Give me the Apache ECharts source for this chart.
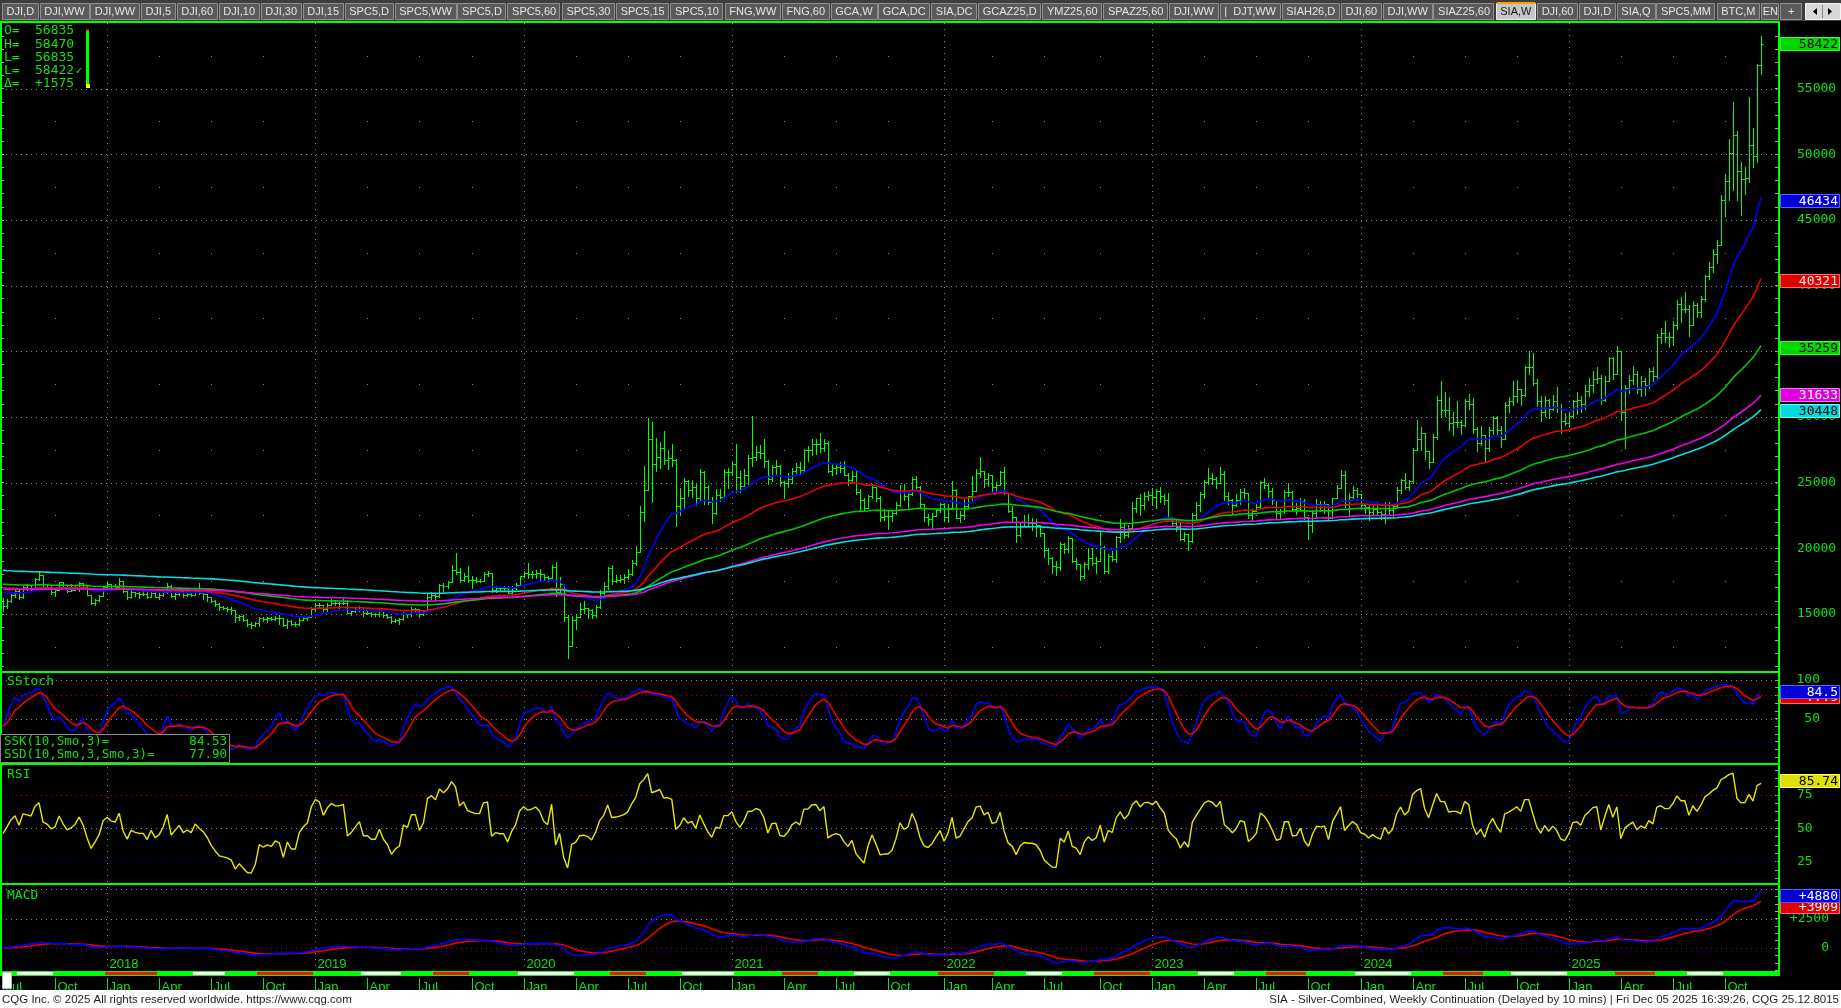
<!DOCTYPE html>
<html>
<head>
<meta charset="utf-8">
<title>SIA Weekly</title>
<script src="https://cdn.jsdelivr.net/npm/echarts@6.0.0/dist/echarts.min.js"></script>
<style>
html,body{margin:0;padding:0;background:#000;overflow:hidden;}
#chart{width:1841px;height:1008px;}
</style>
</head>
<body>
<div id="chart"></div>
<script>
// ================= DATA (US$ / oz, weekly bars dated Friday) =================
const firstWeek = '2017-07-07';
const emptyWeeksAfter = 4;
const firstOpen = 15.95;

const close2017 = [15.60,16.00,16.45,16.75,16.25,17.05,17.00,16.95,17.65,17.95,17.05,16.95,16.70,16.80,17.40,17.05,16.75,16.85,17.00,17.35,17.05,16.45,15.80,16.05,16.35,17.05];
const high2017  = [16.20,16.10,16.50,16.80,16.90,17.15,17.25,17.10,17.75,18.20,17.95,17.30,17.10,16.95,17.45,17.45,17.10,17.25,17.20,17.45,17.35,17.15,16.45,16.15,16.45,17.10];
const low2017   = [15.20,15.45,15.90,16.30,16.10,16.20,16.80,16.80,16.90,17.60,17.00,16.90,16.55,16.35,16.80,17.00,16.65,16.75,16.80,16.75,16.95,16.40,15.75,15.65,15.95,16.35];

const close2018 = [17.25,17.10,17.05,17.50,16.75,16.30,16.70,16.60,16.55,16.55,16.30,16.60,16.30,16.40,16.65,17.15,16.35,16.55,16.75,16.45,16.55,16.45,16.75,16.60,16.50,16.30,16.00,15.75,15.50,15.45,15.40,15.30,14.75,14.85,14.55,14.20,14.15,14.30,14.70,14.60,14.65,14.60,14.70,14.65,14.15,14.45,14.20,14.20,14.55,14.70,14.80,15.35];
const high2018  = [17.40,17.30,17.25,17.70,17.45,16.80,16.80,16.70,16.65,16.75,16.70,16.70,16.70,16.65,16.90,17.35,17.20,16.65,16.90,16.75,16.75,16.65,16.90,17.35,16.60,16.55,16.15,16.05,15.85,15.60,15.55,15.50,15.30,14.95,14.90,14.60,14.40,14.40,14.75,14.75,14.75,14.80,14.85,14.95,14.70,14.60,14.50,14.40,14.70,14.80,14.85,15.50];
const low2018   = [17.00,16.85,16.95,17.05,16.70,16.10,16.20,16.35,16.20,16.40,16.20,16.25,16.25,16.15,16.35,16.60,16.30,16.10,16.40,16.25,16.35,16.35,16.40,16.50,16.15,16.00,15.90,15.60,15.30,15.35,15.25,15.10,14.35,14.55,14.45,14.10,13.95,14.05,14.05,14.45,14.35,14.50,14.50,14.20,14.10,13.95,14.15,14.10,14.15,14.50,14.50,14.80];

const close2019 = [15.70,15.65,15.35,15.65,15.85,15.80,15.80,15.85,15.10,15.20,15.35,15.50,15.10,15.10,15.00,15.00,15.20,14.95,14.80,14.45,14.55,14.60,15.05,15.00,15.35,15.35,15.00,15.20,16.25,16.45,16.35,17.20,17.10,17.45,18.35,18.20,17.60,17.90,17.60,17.55,17.50,17.50,18.05,18.10,16.85,17.00,16.95,16.95,16.60,16.95,17.20,17.85];
const high2019  = [15.85,15.85,15.70,15.80,16.15,15.95,15.90,16.10,16.05,15.30,15.50,15.60,15.45,15.30,15.15,15.05,15.30,15.20,15.00,14.85,14.60,14.65,15.15,15.10,15.55,15.45,15.40,15.30,16.55,16.65,16.60,17.30,17.35,17.50,18.70,19.65,18.50,18.15,18.65,17.90,17.80,17.65,18.20,18.30,18.15,17.15,17.05,17.10,17.15,17.15,17.35,17.90];
const low2019   = [15.30,15.55,15.25,15.25,15.75,15.65,15.45,15.75,15.05,14.95,15.15,15.25,14.85,15.00,14.85,14.85,14.85,14.75,14.70,14.30,14.35,14.25,14.55,14.75,14.85,15.15,14.80,14.90,15.20,16.10,15.95,16.30,16.75,16.95,17.40,18.05,17.40,17.50,17.45,16.95,17.45,17.40,17.50,17.85,16.70,16.65,16.80,16.85,16.60,16.50,16.90,17.20];

const close2020 = [18.10,18.00,18.05,18.15,18.05,17.80,17.70,18.55,16.65,17.25,14.80,12.55,14.55,14.75,15.40,15.45,15.30,14.95,15.55,16.60,17.15,18.50,17.50,17.55,17.65,17.80,18.05,18.90,19.75,22.75,24.40,28.35,26.40,26.95,27.60,26.75,26.85,26.70,23.20,23.80,25.10,24.40,24.65,23.80,25.80,24.70,23.55,22.70,24.05,23.90,25.80,25.80];
const high2020  = [18.30,18.90,18.25,18.35,18.45,18.05,17.90,18.75,18.95,17.80,17.20,14.95,14.85,14.95,15.80,15.95,15.40,15.35,15.70,16.80,17.45,18.55,18.75,17.95,17.95,18.00,18.40,19.10,20.20,23.25,26.25,29.90,29.60,28.40,28.10,28.90,27.45,27.90,26.80,24.60,25.35,25.20,25.20,24.90,26.05,25.90,24.80,23.90,24.50,24.50,26.00,26.10];
const low2020   = [17.80,17.75,17.70,17.75,17.55,17.55,17.50,17.70,16.35,16.60,14.45,11.65,12.60,13.85,14.75,15.05,14.70,14.65,14.75,15.45,16.45,16.90,17.30,17.40,17.40,17.35,17.65,17.95,18.75,19.70,22.10,24.40,23.55,25.85,26.10,26.40,26.05,26.30,21.70,22.60,23.00,24.00,23.90,23.30,23.60,23.40,23.40,21.90,22.60,23.60,24.00,24.60];

const close2021 = [26.40,25.40,24.75,25.55,26.90,26.95,27.35,27.25,26.65,25.25,26.20,26.25,25.05,24.95,25.30,25.90,26.15,25.95,27.45,27.45,27.90,27.95,27.65,28.00,25.90,26.10,26.20,26.10,25.60,25.20,25.50,24.30,23.70,23.05,23.95,24.70,23.80,22.40,22.45,22.45,22.65,23.30,24.45,23.95,24.15,25.30,24.70,23.35,22.40,22.20,22.45,22.90,23.35];
const high2021  = [26.60,27.90,25.90,26.05,27.10,30.10,27.80,27.85,28.35,26.70,26.35,26.75,26.35,25.10,25.70,26.10,26.50,26.55,27.55,27.80,28.30,28.30,28.75,28.30,28.20,26.45,26.40,26.60,26.65,25.70,25.90,25.90,24.50,23.80,24.05,24.90,24.70,23.95,23.00,22.80,22.90,23.55,24.85,24.90,24.25,25.40,25.50,24.75,23.25,22.60,22.65,23.00,23.45];
const low2021   = [25.60,24.30,24.30,24.90,24.80,26.30,26.70,26.85,26.20,24.90,25.15,25.65,24.75,23.80,24.65,24.95,25.70,25.70,25.90,26.65,27.10,27.15,27.30,27.40,25.80,25.60,25.65,25.80,25.55,24.80,25.00,24.10,22.90,22.80,23.10,23.85,23.60,22.10,22.15,21.45,22.10,22.60,23.25,23.70,23.05,24.05,24.55,23.05,22.10,21.80,21.45,22.60,22.75];

const close2022 = [22.40,23.00,24.40,22.30,22.50,23.20,23.95,24.35,25.75,25.90,25.25,25.55,24.70,24.80,25.80,24.20,22.80,22.35,21.00,21.70,22.00,21.90,21.90,21.75,21.15,19.90,19.25,18.65,18.60,20.35,19.95,20.80,19.05,18.80,17.85,18.80,19.25,18.85,19.05,20.10,18.30,19.40,19.20,20.85,21.65,21.00,21.55,23.05,23.80,23.30,24.00,24.05];
const high2022  = [23.40,23.40,25.10,24.50,22.85,23.75,24.00,25.50,26.00,26.95,25.90,25.70,25.25,25.05,25.85,26.20,23.90,23.20,22.20,21.95,22.50,22.60,22.30,22.20,21.50,21.15,20.00,19.35,19.00,20.45,20.40,20.95,20.70,19.25,18.50,18.95,20.05,20.00,19.35,21.20,20.15,19.55,19.90,20.95,22.25,21.85,21.75,23.50,23.85,24.15,24.30,24.35];
const low2022   = [22.10,22.00,22.95,22.30,22.00,22.20,23.10,23.50,24.40,25.40,24.70,24.75,24.30,24.35,24.85,24.15,22.75,22.00,20.45,20.90,21.80,21.75,21.40,20.95,20.90,19.30,18.80,18.15,17.95,18.35,19.60,19.75,18.95,18.40,17.55,17.75,18.40,18.75,18.10,19.10,18.10,18.10,19.05,18.95,20.50,20.75,20.85,21.65,22.75,22.55,22.95,23.70];

const close2023 = [23.90,24.35,23.95,23.65,22.40,21.95,21.65,20.70,21.10,20.55,22.55,23.30,24.10,25.05,25.35,25.25,25.00,25.65,24.00,23.70,23.30,23.65,24.30,24.20,22.55,22.80,23.15,25.05,24.80,24.35,23.65,22.70,22.80,24.25,24.25,23.00,23.05,23.60,22.40,21.80,22.70,23.40,23.35,23.40,22.30,23.80,24.60,25.60,23.35,23.90,24.40,24.10];
const high2023  = [24.55,24.50,24.70,24.10,24.20,22.30,22.30,21.90,21.25,21.10,22.70,23.50,24.25,25.20,26.10,25.70,25.40,26.15,25.85,24.25,23.75,24.15,24.50,24.60,24.20,23.00,23.40,25.15,25.35,24.95,24.55,23.70,22.95,24.40,25.00,24.35,23.45,23.80,23.75,21.95,22.90,23.75,23.60,23.60,23.25,23.85,24.85,25.95,25.85,24.20,24.75,24.60];
const low2023   = [23.30,23.10,23.50,23.35,22.30,21.75,21.35,20.60,20.55,19.90,20.50,22.15,22.85,23.80,24.90,24.90,24.60,24.95,23.70,23.40,22.70,23.20,23.40,23.85,22.30,22.10,22.80,23.05,24.60,23.90,23.40,22.30,22.25,22.70,23.95,22.90,22.60,23.00,22.20,20.70,21.20,22.40,22.80,22.70,22.15,22.35,23.90,24.55,23.15,22.55,23.75,23.90];

const close2024 = [23.30,23.15,22.75,23.00,22.75,22.60,23.40,22.90,23.20,24.45,25.20,24.70,25.10,27.50,28.30,28.80,27.40,26.60,28.50,31.30,30.50,30.50,29.50,29.60,29.60,29.40,31.20,31.00,29.10,28.00,28.60,27.60,29.00,29.90,29.00,28.30,30.90,31.20,31.60,32.10,31.70,33.80,33.80,32.60,31.20,30.40,31.30,30.60,31.20,30.70,29.70,29.50];
const high2024  = [24.15,23.40,23.35,23.25,23.55,22.80,23.50,23.50,23.40,24.65,25.30,25.70,25.20,27.65,29.80,29.20,28.00,27.40,28.70,31.60,32.75,31.90,31.55,30.40,31.20,29.80,31.40,31.75,31.45,29.20,29.30,28.20,29.20,30.05,30.10,29.30,31.10,31.55,32.70,32.80,32.00,33.90,35.00,34.90,32.90,31.60,31.60,31.40,31.70,32.30,31.00,30.30];
const low2024   = [23.10,22.65,22.15,22.50,22.55,22.20,21.95,22.60,22.40,23.20,24.20,24.50,24.40,25.00,27.60,27.50,26.80,26.10,26.60,28.30,30.00,30.10,29.00,28.60,29.25,28.70,29.30,30.60,28.80,27.40,27.85,26.60,27.40,28.70,28.70,27.70,28.30,30.40,30.90,31.10,30.90,31.60,33.30,32.40,30.80,29.70,30.10,29.90,30.50,30.40,28.80,29.40];

const close2025 = [30.10,31.20,31.30,31.00,32.00,32.40,32.90,33.00,31.30,32.70,34.50,33.30,35.00,30.40,32.20,32.80,33.30,32.10,32.70,32.40,33.50,33.10,36.10,36.40,36.10,36.10,37.00,38.60,38.20,38.20,37.00,38.50,38.00,39.00,40.70,41.40,42.40,43.10,46.50,48.00,50.10,51.50,48.70,48.10,48.20,50.70,49.90,56.835,58.422];
const high2025  = [30.40,31.30,31.90,31.60,32.40,33.00,33.50,33.80,33.20,33.10,34.60,34.60,35.40,35.00,32.40,33.20,33.90,33.50,33.10,33.00,33.70,33.80,36.30,36.80,37.30,36.50,37.30,38.90,39.10,39.50,38.50,38.80,38.70,39.20,40.80,41.80,42.80,43.50,46.90,48.50,51.20,54.00,51.80,49.40,49.00,54.40,52.00,56.90,59.00];
const low2025   = [29.20,29.90,30.20,30.40,30.60,31.60,31.90,32.60,31.00,31.20,32.80,32.90,33.40,29.80,27.60,31.80,32.50,31.80,31.60,31.70,32.20,32.70,32.90,35.60,35.70,35.30,35.50,36.70,37.20,38.00,36.20,37.20,37.60,37.60,38.80,40.50,41.00,41.70,43.30,45.30,46.50,47.30,46.50,45.40,47.00,47.90,49.00,49.40,56.10];

// moving averages (exponential), start levels read at the first bar
const maPeriods = [21, 50, 100, 170, 200];
const maSeeds   = [16760, 17070, 17300, 16900, 18350];

// indicator settings
const stochPeriod = 10, stochSmooth = 3;
const rsiPeriod = 9, rsiSeed = [250, 250];
const macdFast = 12, macdSlow = 26, macdSignal = 9;

// right-hand value labels
const mainLast  = [58422, 46434, 40321, 35259, 31633, 30448];
const stochLast = [77.90, 84.53];
const rsiLast   = [85.74];
const macdLast  = [3909, 4880];

// axis tick labels
const priceLabels = [15000, 20000, 25000, 30000, 35000, 40000, 45000, 50000, 55000];
const stochLabels = [50, 100];
const rsiLabels   = [25, 50, 75];
const macdLabels  = [0, 2500];

// header readout
const ohlcKeys   = ['O=', 'H=', 'L=', 'L=', '\u0394='];
const ohlcValues = ['56835', '58470', '56835', '58422', '+1575'];
const stochLegendKeys = ['SSK(10,Smo,3)=', 'SSD(10,Smo,3,Smo,3)='];
const stochLegendVals = ['84.53', '77.90'];

// contract strip segments
const stripWhite = [['2017-08-04','2017-09-29'],['2018-06-08','2018-07-27'],['2019-03-29','2019-05-31'],['2019-12-27','2020-03-27'],['2020-10-09','2021-01-01'],['2021-08-06','2021-10-01'],['2022-06-03','2022-07-29'],['2023-03-31','2023-05-26'],['2023-12-29','2024-03-29'],['2024-09-27','2024-12-27'],['2025-08-01','2025-09-26']];
const stripRed   = [['2018-01-05','2018-03-30'],['2018-09-28','2018-12-28'],['2019-08-02','2019-09-27'],['2020-06-05','2020-07-31'],['2021-04-02','2021-05-28'],['2021-12-31','2022-04-01'],['2022-09-30','2022-12-30'],['2023-07-28','2023-09-29'],['2024-05-31','2024-08-02'],['2025-03-28','2025-05-30']];

const tabs = ['DJI,D','DJI,WW','DJI,WW','DJI,5','DJI,60','DJI,10','DJI,30','DJI,15','SPC5,D','SPC5,WW','SPC5,D','SPC5,60','SPC5,30','SPC5,15','SPC5,10','FNG,WW','FNG,60','GCA,W','GCA,DC','SIA,DC','GCAZ25,D','YMZ25,60','SPAZ25,60','DJI,WW','|  DJT,WW','SIAH26,D','DJI,60','DJI,WW','SIAZ25,60','SIA,W','DJI,60','DJI,D','SIA,Q','SPC5,MM','BTC,M','EN','+'];
const activeTab = 'SIA,W';
const footerLeft = 'CQG Inc. \u00a9 2025 All rights reserved worldwide. https://www.cqg.com';
const footerRight = 'SIA - Silver-Combined, Weekly Continuation (Delayed by 10 mins) | Fri Dec 05 2025 16:39:26, CQG 25.12.8015';

// ================= BUILD =================
const toK = a => a.map(v => Math.round(v * 1000));
const closes = toK([].concat(close2017, close2018, close2019, close2020, close2021, close2022, close2023, close2024, close2025));
const highsR = toK([].concat(high2017, high2018, high2019, high2020, high2021, high2022, high2023, high2024, high2025));
const lowsR  = toK([].concat(low2017, low2018, low2019, low2020, low2021, low2022, low2023, low2024, low2025));
const N = closes.length;
const opens = closes.map((c, i) => i === 0 ? Math.round(firstOpen * 1000) : closes[i - 1]);
const highs = highsR.map((h, i) => Math.max(h, opens[i], closes[i]));
const lows  = lowsR.map((l, i) => Math.min(l, opens[i], closes[i]));
const LAST = N - 1;

const DAY = 86400000, t0 = Date.parse(firstWeek + 'T00:00:00Z');
const dates = [];
for (let i = 0; i < N + emptyWeeksAfter; i++) dates.push(new Date(t0 + i * 7 * DAY).toISOString().slice(0, 10));
const MONTHS = ['Jan','Feb','Mar','Apr','May','Jun','Jul','Aug','Sep','Oct','Nov','Dec'];
const monthOf = i => +dates[i].slice(5, 7);
const yearStarts = [], quarterStarts = [];
for (let i = 0; i < N; i++) {
  const m = monthOf(i);
  const newMonth = i === 0 || monthOf(i - 1) !== m;
  if (newMonth && [1, 4, 7, 10].includes(m)) quarterStarts.push(i);
  if (i > 0 && dates[i].slice(0, 4) !== dates[i - 1].slice(0, 4)) yearStarts.push(i);
}

// indicators
function ema(src, n, seed) { const a = 2 / (n + 1); let v = seed; return src.map(x => (v = v + a * (x - v))); }
const maLines = maPeriods.map((p, k) => ema(closes, p, maSeeds[k]).map(v => Math.round(v)));

const raw = closes.map((c, i) => {
  let hi = -Infinity, lo = Infinity;
  for (let j = Math.max(0, i - stochPeriod + 1); j <= i; j++) { hi = Math.max(hi, highs[j]); lo = Math.min(lo, lows[j]); }
  return hi > lo ? (c - lo) / (hi - lo) * 100 : 50;
});
function smo(src, n) { let v = src[0]; return src.map((x, i) => i === 0 ? v : (v = v + (x - v) / n)); }
const ssk = smo(raw, stochSmooth), ssd = smo(ssk, stochSmooth);

let ag = rsiSeed[0], al = rsiSeed[1];
const rsi = closes.map((c, i) => {
  const d = c - opens[i];
  ag = (ag * (rsiPeriod - 1) + Math.max(d, 0)) / rsiPeriod;
  al = (al * (rsiPeriod - 1) + Math.max(-d, 0)) / rsiPeriod;
  return 100 - 100 / (1 + ag / al);
});

let e1 = closes[0], e2 = closes[0], sg = 0;
const macd = [], macdSig = [];
closes.forEach(c => {
  e1 += (c - e1) * 2 / (macdFast + 1); e2 += (c - e2) * 2 / (macdSlow + 1);
  const m = e1 - e2; sg += (m - sg) * 2 / (macdSignal + 1);
  macd.push(Math.round(m)); macdSig.push(Math.round(sg));
});

// ================= LAYOUT / STYLE =================
const GL = 1, GR = 62;
const PANE = { main: [23, 648], stoch: [672, 91], rsi: [764, 119], macd: [884, 87], strip: [971, 5] };
const GREEN_TXT = '#12e012', BAR = '#00ff00', DOT = '#8e8e8e';
const MONO = '"DejaVu Sans Mono", monospace';
const maColors = ['#0000ff', '#ee0000', '#00c800', '#f000f0', '#00e0e0'];

const grids = ['main', 'stoch', 'rsi', 'macd', 'strip'].map(k => ({
  left: GL, right: GR, top: PANE[k][0], height: PANE[k][1], containLabel: false, outerBoundsMode: 'none', show: false
}));
const xAxes = grids.map((g, i) => ({ type: 'category', gridIndex: i, data: dates, boundaryGap: true, show: false }));
const range = (a, b, s) => { const r = []; for (let v = a; v <= b + 1e-9; v += s) r.push(+v.toFixed(4)); return r; };
const labelStyle = (margin, align) => ({ show: true, margin, align, color: GREEN_TXT, fontFamily: MONO, fontSize: 13 });
const yAxes = [
  { type: 'value', gridIndex: 0, position: 'right', min: 10650, max: 60000, axisLine: { show: false }, splitLine: { show: false },
    axisTick: { show: true, inside: true, length: 4, customValues: range(11000, 59000, 1000), lineStyle: { color: '#a8a8a8' } },
    axisLabel: Object.assign(labelStyle(18, 'left'), { customValues: priceLabels, formatter: v => String(v) }) },
  { type: 'value', gridIndex: 0, position: 'left', min: 10650, max: 60000, axisLine: { show: false }, splitLine: { show: false },
    axisTick: { show: true, inside: true, length: 3, customValues: range(11000, 59000, 1000), lineStyle: { color: '#a8a8a8' } },
    axisLabel: { show: false } },
  { type: 'value', gridIndex: 1, position: 'right', min: -7.8, max: 110.4, axisLine: { show: false }, splitLine: { show: false },
    axisTick: { show: true, inside: true, length: 4, customValues: range(0, 100, 10), lineStyle: { color: '#a8a8a8' } },
    axisLabel: Object.assign(labelStyle(41, 'right'), { customValues: stochLabels, formatter: v => String(v) }) },
  { type: 'value', gridIndex: 2, position: 'right', min: 8.83, max: 98.31, axisLine: { show: false }, splitLine: { show: false },
    axisTick: { show: true, inside: true, length: 4, customValues: range(12.5, 93.75, 6.25), lineStyle: { color: '#a8a8a8' } },
    axisLabel: Object.assign(labelStyle(18, 'left'), { customValues: rsiLabels, formatter: v => String(v) }) },
  { type: 'value', gridIndex: 3, position: 'right', min: -1949, max: 5424, axisLine: { show: false }, splitLine: { show: false },
    axisTick: { show: true, inside: true, length: 4, customValues: range(-1875, 5000, 625), lineStyle: { color: '#a8a8a8' } },
    axisLabel: Object.assign(labelStyle(50, 'right'), { customValues: macdLabels, formatter: v => (v > 0 ? '+' + v : String(v)) }) },
  { type: 'value', gridIndex: 4, min: 0, max: 1, show: false }
];

// ---------- series helpers ----------
function hLines(xi, yi, levels, colors) {
  return { type: 'custom', xAxisIndex: xi, yAxisIndex: yi, silent: true, z: 1, clip: false, animation: false,
    data: levels.map(v => [0, v]),
    renderItem: (params, api) => {
      const cs = params.coordSys;
      const y = Math.round(api.coord([0, api.value(1)])[1]) + 0.5;
      return { type: 'line', shape: { x1: cs.x, y1: y, x2: cs.x + cs.width, y2: y },
        style: { stroke: colors[params.dataIndex], lineWidth: 1, lineDash: [1, 4] } };
    } };
}
function boxes(xi, yi, values, specs, stack) {
  return { type: 'custom', xAxisIndex: xi, yAxisIndex: yi, silent: true, z: 50, clip: false, animation: false,
    data: values.map(v => [LAST, v]),
    renderItem: (params, api) => {
      const cs = params.coordSys;
      const pos = values.map(v => api.coord([LAST, v])[1]);
      if (stack) {
        const order = pos.map((y, k) => ({ k, y })).sort((a, b) => a.y - b.y);
        let prev = -1e9;
        order.forEach(o => { const y = Math.max(o.y, prev + 11.5, cs.y + 11.5); pos[o.k] = y; prev = y; });
      }
      const k = params.dataIndex, s = specs[k];
      const yc = Math.round(pos[k]);
      const x0 = cs.x + cs.width + 1;
      return { type: 'group', children: [
        { type: 'rect', shape: { x: x0 + 0.5, y: yc - 6.5, width: 59, height: 13 }, style: { fill: s[0], stroke: s[1], lineWidth: 1 } },
        { type: 'text', style: { text: s[3], x: x0 + 58, y: yc + 1, fill: s[2], font: '13px ' + MONO,
          textAlign: 'right', align: 'right', textVerticalAlign: 'middle', verticalAlign: 'middle' } }
      ] };
    } };
}
const idxOf = d => dates.indexOf(d);

const series = [];
// grid decorations: year lines & quarter dots
series.push({ type: 'custom', xAxisIndex: 0, yAxisIndex: 0, silent: true, z: 1, clip: false, animation: false,
  data: yearStarts.map(i => [i, 30000]),
  renderItem: (params, api) => {
    const x = Math.round(api.coord([api.value(0), 30000])[0]) + 0.5;
    return { type: 'line', shape: { x1: x, y1: PANE.main[0], x2: x, y2: PANE.macd[0] + PANE.macd[1] },
      style: { stroke: DOT, lineWidth: 1, lineDash: [1, 5] } };
  } });
const dotPts = [];
quarterStarts.filter(i => i > 0 && !yearStarts.includes(i)).forEach(i => {
  for (let v = 12500; v <= 57500; v += 5000) dotPts.push([i, v]);
});
series.push({ type: 'custom', xAxisIndex: 0, yAxisIndex: 0, silent: true, z: 1, animation: false, data: dotPts,
  renderItem: (params, api) => {
    const p = api.coord([api.value(0), api.value(1)]);
    return { type: 'rect', shape: { x: Math.round(p[0]), y: Math.round(p[1]), width: 1, height: 1 }, style: { fill: DOT } };
  } });
series.push(hLines(0, 0, priceLabels, priceLabels.map(() => DOT)));
series.push(hLines(1, 2, [100, 80, 50, 20], [DOT, '#c00000', DOT, '#0000d0']));
series.push(hLines(2, 3, [75, 50, 25], ['#c00000', DOT, '#0000d0']));
series.push(hLines(3, 4, [5000, 2500, 0, -280], [DOT, DOT, '#c00000', '#0000d0']));

// OHLC bars
series.push({ type: 'custom', name: 'SIA', xAxisIndex: 0, yAxisIndex: 0, z: 2, animation: false, progressive: 0,
  encode: { x: 0, y: [1, 2, 3, 4] },
  data: closes.map((c, i) => [i, opens[i], highs[i], lows[i], c]),
  renderItem: (params, api) => {
    const i = api.value(0);
    const ph = api.coord([i, api.value(2)]), pl = api.coord([i, api.value(3)]);
    const po = api.coord([i, api.value(1)]), pc = api.coord([i, api.value(4)]);
    const x = Math.round(ph[0]) + 0.5;
    const st = { stroke: BAR, lineWidth: 1 };
    const yo = Math.round(po[1]) + 0.5, yc = Math.round(pc[1]) + 0.5;
    return { type: 'group', children: [
      { type: 'line', shape: { x1: x, y1: Math.round(ph[1]), x2: x, y2: Math.round(pl[1]) + 1 }, style: st },
      { type: 'line', shape: { x1: x - 2, y1: yo, x2: x, y2: yo }, style: st },
      { type: 'line', shape: { x1: x, y1: yc, x2: x + 2, y2: yc }, style: st }
    ] };
  } });
// moving averages
maLines.forEach((d, k) => series.push({ type: 'line', xAxisIndex: 0, yAxisIndex: 0, data: d, showSymbol: false, symbol: 'none',
  z: 3, animation: false, silent: true, lineStyle: { color: maColors[k], width: 1.6 } }));
// stoch
series.push({ type: 'line', xAxisIndex: 1, yAxisIndex: 2, data: ssk.map(v => +v.toFixed(2)), symbol: 'none', z: 3, animation: false, silent: true, lineStyle: { color: '#0000ff', width: 1.6 } });
series.push({ type: 'line', xAxisIndex: 1, yAxisIndex: 2, data: ssd.map(v => +v.toFixed(2)), symbol: 'none', z: 3, animation: false, silent: true, lineStyle: { color: '#ee0000', width: 1.6 } });
// rsi
series.push({ type: 'line', xAxisIndex: 2, yAxisIndex: 3, data: rsi.map(v => +v.toFixed(2)), symbol: 'none', z: 3, animation: false, silent: true, lineStyle: { color: '#e8e800', width: 1.4 } });
// macd
series.push({ type: 'line', xAxisIndex: 3, yAxisIndex: 4, data: macdSig, symbol: 'none', z: 3, animation: false, silent: true, lineStyle: { color: '#ee0000', width: 1.6 } });
series.push({ type: 'line', xAxisIndex: 3, yAxisIndex: 4, data: macd, symbol: 'none', z: 3, animation: false, silent: true, lineStyle: { color: '#0000ff', width: 1.6 } });

// year labels (inside bottom of MACD pane)
series.push({ type: 'custom', xAxisIndex: 3, yAxisIndex: 4, silent: true, z: 5, clip: false, animation: false,
  data: yearStarts.map(i => [i, 0]),
  renderItem: (params, api) => {
    const i = api.value(0), cs = params.coordSys;
    const x = Math.round(api.coord([i, 0])[0]) + 0.5;
    return { type: 'text', style: { text: dates[i].slice(0, 4), x: x + 2, y: cs.y + cs.height - 7, fill: GREEN_TXT,
      font: '13px "Liberation Sans"', textAlign: 'left', align: 'left', textVerticalAlign: 'middle', verticalAlign: 'middle' } };
  } });
// contract strip
const stripSegs = stripWhite.map(s => [idxOf(s[0]), idxOf(s[1]), 0]).concat(stripRed.map(s => [idxOf(s[0]), idxOf(s[1]), 1]));
series.push({ type: 'custom', xAxisIndex: 4, yAxisIndex: 5, silent: true, z: 4, clip: false, animation: false,
  data: stripSegs,
  renderItem: (params, api) => {
    const cs = params.coordSys, w = api.size([1, 0])[0];
    const x1 = api.coord([api.value(0), 0])[0] - w / 2, x2 = api.coord([api.value(1), 0])[0] + w / 2;
    return { type: 'rect', shape: { x: Math.round(x1), y: cs.y + 1, width: Math.round(x2 - x1), height: 3 },
      style: { fill: api.value(2) === 0 ? '#ffffff' : '#ff1010' } };
  } });
// month labels
series.push({ type: 'custom', xAxisIndex: 4, yAxisIndex: 5, silent: true, z: 5, clip: false, animation: false,
  data: quarterStarts.map(i => [i, 0]),
  renderItem: (params, api) => {
    const i = api.value(0), cs = params.coordSys;
    const x = Math.round(api.coord([i, 0])[0]) + 0.5;
    const top = cs.y + cs.height + 2;
    return { type: 'group', children: [
      { type: 'line', shape: { x1: x, y1: top, x2: x, y2: top + 13 }, style: { stroke: GREEN_TXT, lineWidth: 1 } },
      { type: 'text', style: { text: MONTHS[monthOf(i) - 1], x: x + 2, y: top + 9.5, fill: GREEN_TXT,
        font: '13px "Liberation Sans"', textAlign: 'left', align: 'left', textVerticalAlign: 'middle', verticalAlign: 'middle' } }
    ] };
  } });
// value boxes
const mainSpecs = [
  ['#00d800', '#30ff30', '#000000', String(mainLast[0])],
  ['#0000d8', '#5a5aff', '#ffffff', String(mainLast[1])],
  ['#e00000', '#ff6a6a', '#ffe0e0', String(mainLast[2])],
  ['#00d800', '#30ff30', '#000000', String(mainLast[3])],
  ['#e000e0', '#ff70ff', '#ffffff', String(mainLast[4])],
  ['#00dcdc', '#70ffff', '#000000', String(mainLast[5])]
];
series.push(boxes(0, 0, mainLast, mainSpecs, false));
series.push(boxes(1, 2, stochLast, [['#e00000', '#ff6a6a', '#ffe0e0', stochLast[0].toFixed(1)], ['#0000d8', '#5a5aff', '#ffffff', stochLast[1].toFixed(1)]], false));
series.push(boxes(2, 3, rsiLast, [['#e0e000', '#ffff70', '#000000', rsiLast[0].toFixed(2)]], false));
series.push(boxes(3, 4, macdLast, [['#e00000', '#ff6a6a', '#ffffff', '+' + macdLast[0]], ['#0000d8', '#5a5aff', '#ffffff', '+' + macdLast[1]]], true));

// ---------- static graphics ----------
const G = [];
const txt = (text, x, y, fill, font, align, z) => ({ type: 'text', z: z || 110,
  style: { text, x, y, fill, font, textAlign: align || 'left', align: align || 'left', textVerticalAlign: 'middle', verticalAlign: 'middle' } });
const rect = (x, y, w, h, fill, stroke, z) => ({ type: 'rect', z: z || 100, shape: { x, y, width: w, height: h },
  style: stroke ? { fill, stroke, lineWidth: 1 } : { fill } });

// tab bar
G.push(rect(0, 0, 1841, 21, '#3d3d3d', null, 90));
const cv = document.createElement('canvas').getContext('2d');
cv.font = '11px "Liberation Sans"';
let nat = tabs.map(t => cv.measureText(t).width + (t === '+' ? 16 : t === 'EN' ? 4 : 10));
const tabScale = (1803 - 2) / nat.reduce((a, b) => a + b, 0);
let tx = 2;
tabs.forEach((t, k) => {
  const w = nat[k] * tabScale, act = t === activeTab;
  G.push(rect(Math.round(tx) + 0.5, 3.5, Math.round(w) - 2, 16, act ? '#c6c6c6' : '#5a5a5a', act ? '#eeeeee' : '#909090', 91));
  if (act) G.push(rect(Math.round(tx) + 1, 2, Math.round(w) - 3, 2, '#ffa000', null, 92));
  G.push(txt(t, tx + (w - 1) / 2, 12, act ? '#151515' : '#e6e6e6', '11px "Liberation Sans"', 'center', 93));
  tx += w;
});
G.push(rect(1805.5, 3.5, 35, 16, '#d8d8d8', '#f4f4f4', 91));
G.push({ type: 'polygon', z: 93, shape: { points: [[1817, 8], [1817, 15], [1813, 11.5]] }, style: { fill: '#000' } });
G.push({ type: 'polygon', z: 93, shape: { points: [[1828, 8], [1828, 15], [1832, 11.5]] }, style: { fill: '#000' } });
G.push(rect(1822, 5, 1, 13, '#888888', null, 93));

// green frame
G.push(rect(0, 21, 1780, 2, BAR));
G.push(rect(0, 21, 2, 951, BAR));
G.push(rect(1778, 21, 2, 951, BAR));
G.push(rect(0, 671, 1780, 2, BAR));
G.push(rect(0, 763, 1780, 2, BAR));
G.push(rect(0, 883, 1780, 2, BAR));
G.push(rect(0, 971, 1780, 5, BAR, null, 3));

// header readout
ohlcKeys.forEach((k, r) => {
  G.push(txt(k, 4, 31 + r * 13.2, GREEN_TXT, '13px ' + MONO));
  G.push(txt(ohlcValues[r], 35, 31 + r * 13.2, GREEN_TXT, '13px ' + MONO));
});
G.push(txt('\u2713', 75, 71, GREEN_TXT, '10px "DejaVu Sans"'));
G.push(rect(86, 29, 3, 58, BAR));
G.push(rect(86, 29, 3, 2, '#ff0000', null, 101));
G.push(rect(86, 84, 4, 4, '#ffff00', null, 101));

// pane titles
G.push(txt('SStoch', 7, 682, GREEN_TXT, '13px ' + MONO));
G.push(txt('RSI', 7, 775, GREEN_TXT, '13px ' + MONO));
G.push(txt('MACD', 7, 896, GREEN_TXT, '13px ' + MONO));
// stoch legend box
G.push(rect(0.5, 734.5, 229, 28, '#000000', '#8a8a8a', 105));
stochLegendKeys.forEach((k, r) => {
  G.push(txt(k, 4, 742 + r * 13, GREEN_TXT, '12.5px ' + MONO));
  G.push(txt(stochLegendVals[r], 227, 742 + r * 13, GREEN_TXT, '12.5px ' + MONO, 'right'));
});
// bottom-left scroll box
G.push(rect(2.5, 972.5, 9, 16, '#ffffff', '#bbbbbb', 101));
// footer
G.push(rect(0, 990, 1841, 18, '#ffffff', null, 100));
G.push(txt(footerLeft, 2, 999.5, '#1e1e1e', '11.5px "Liberation Sans"', 'left', 101));
G.push(txt(footerRight, 1839, 999.5, '#1e1e1e', '11.5px "Liberation Sans"', 'right', 101));

const chart = echarts.init(document.getElementById('chart'), null, { renderer: 'canvas', width: 1841, height: 1008, devicePixelRatio: 1 });
chart.setOption({
  backgroundColor: '#000000',
  animation: false,
  grid: grids,
  xAxis: xAxes,
  yAxis: yAxes,
  series: series,
  graphic: { elements: G }
});
</script>
</body>
</html>
